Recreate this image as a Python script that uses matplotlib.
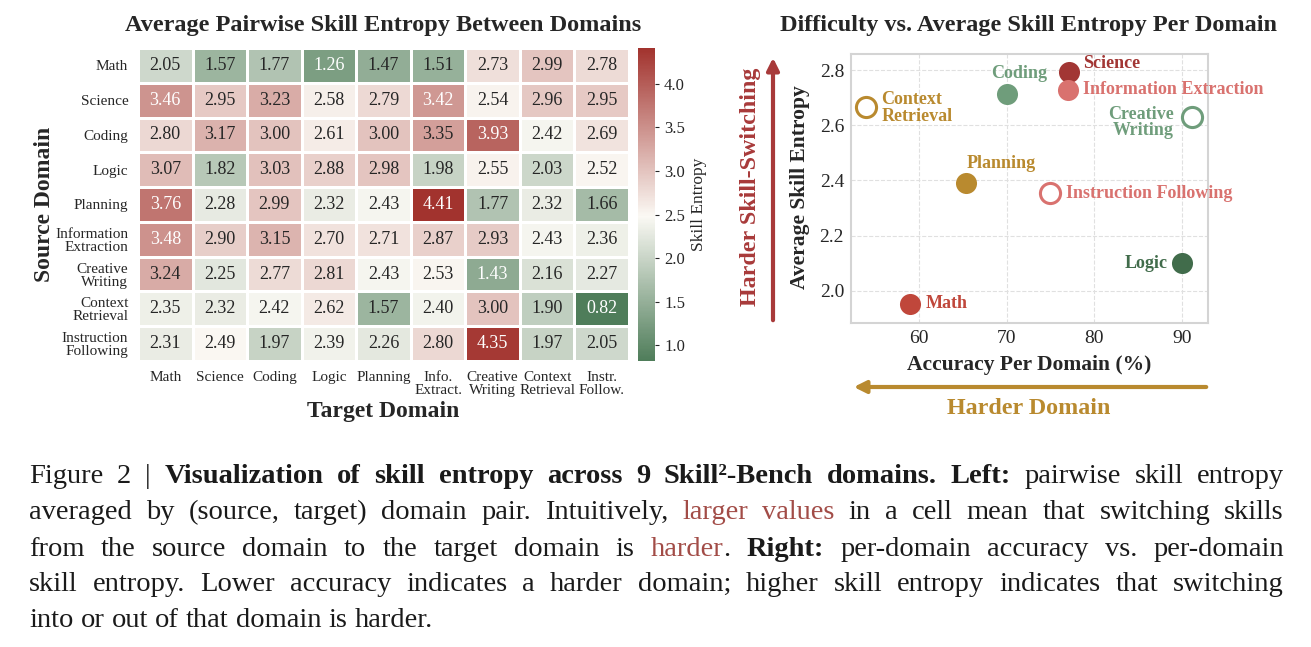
import numpy as np
import matplotlib
matplotlib.use("Agg")
from matplotlib import pyplot as plt
from matplotlib.colors import LinearSegmentedColormap, Normalize
from matplotlib.patches import FancyArrowPatch

plt.rcParams['font.family'] = ['Liberation Serif', 'DejaVu Serif']

# heatmap data (rows = source domain, cols = target domain)
source_labels = ["Math", "Science", "Coding", "Logic", "Planning",
                 "Information\nExtraction", "Creative\nWriting",
                 "Context\nRetrieval", "Instruction\nFollowing"]
target_labels = ["Math", "Science", "Coding", "Logic", "Planning",
                 "Info.\nExtract.", "Creative\nWriting", "Context\nRetrieval",
                 "Instr.\nFollow."]
entropy = np.array([
    [2.05, 1.57, 1.77, 1.26, 1.47, 1.51, 2.73, 2.99, 2.78],
    [3.46, 2.95, 3.23, 2.58, 2.79, 3.42, 2.54, 2.96, 2.95],
    [2.80, 3.17, 3.00, 2.61, 3.00, 3.35, 3.93, 2.42, 2.69],
    [3.07, 1.82, 3.03, 2.88, 2.98, 1.98, 2.55, 2.03, 2.52],
    [3.76, 2.28, 2.99, 2.32, 2.43, 4.41, 1.77, 2.32, 1.66],
    [3.48, 2.90, 3.15, 2.70, 2.71, 2.87, 2.93, 2.43, 2.36],
    [3.24, 2.25, 2.77, 2.81, 2.43, 2.53, 1.43, 2.16, 2.27],
    [2.35, 2.32, 2.42, 2.62, 1.57, 2.40, 3.00, 1.90, 0.82],
    [2.31, 2.49, 1.97, 2.39, 2.26, 2.80, 4.35, 1.97, 2.05],
])

# scatter data
domains = ["Math", "Science", "Coding", "Logic", "Planning",
           "Information Extraction", "Creative Writing",
           "Context Retrieval", "Instruction Following"]
accuracy = [59.0, 77.1, 70.0, 90.0, 65.4, 77.0, 91.1, 54.0, 75.0]
avg_entropy = [1.953, 2.793, 2.713, 2.100, 2.392, 2.728, 2.631, 2.667, 2.354]
point_colors = ["#c0473b", "#a23634", "#6f9d7b", "#416c4b", "#b98a2f",
                "#d9726f", "#6f9d7b", "#b98a2f", "#d9726f"]
hollow = [False, False, False, False, False, False, True, True, True]
point_labels = ["Math", "Science", "Coding", "Logic", "Planning",
                "Information Extraction", "Creative\nWriting",
                "Context\nRetrieval", "Instruction Following"]
# label offsets (points) and horizontal alignment
label_pos = [(11, 0, 'left'), (10, 6, 'left'), (9, 15, 'center'),
             (-10, 0, 'right'), (0, 14, 'left'), (11, 0, 'left'),
             (-13, -4, 'right'), (11, -1, 'left'), (11, 0, 'left')]

W, H = 1311, 647
fig = plt.figure(figsize=(W / 100, H / 100), dpi=100)


def fx(px):
    return px / W


def fy(py):
    return 1 - py / H


dark = "#262626"

# ---------------- heatmap ----------------
ax = fig.add_axes([fx(138), fy(361), fx(629) - fx(138), fy(48) - fy(361)])
cax = fig.add_axes([fx(638), fy(361), fx(655) - fx(638), fy(48) - fy(361)])

vmin, vmax = entropy.min(), entropy.max()
white_at = (2.48 - vmin) / (vmax - vmin)
cmap = LinearSegmentedColormap.from_list(
    "gr", [(0, "#4f7d5a"), (white_at, "#fbf9f4"), (1, "#a2332e")])
norm = Normalize(vmin=vmin, vmax=vmax)

mesh = ax.pcolormesh(entropy, cmap=cmap, norm=norm, edgecolors="white", linewidth=1)
ax.set_xlim(0, 9)
ax.set_ylim(9, 0)
for i in range(entropy.shape[0]):
    for j in range(entropy.shape[1]):
        v = entropy[i, j]
        c = "white" if (v > 3.4 or v < 1.45) else dark
        ax.text(j + 0.5, i + 0.5, f"{v:.2f}", ha="center", va="center",
                fontsize=13, color=c)
ax.set_xticks(np.arange(9) + 0.5)
ax.set_xticklabels(target_labels, fontsize=11, color=dark, linespacing=1.0, va="top")
ax.set_yticks(np.arange(9) + 0.5)
ax.set_yticklabels(source_labels, fontsize=11, color=dark, linespacing=1.0)
ax.tick_params(length=0, pad=7)
for s in ax.spines.values():
    s.set_visible(False)
fig.text(fx(383), fy(412), "Target Domain", ha="center", va="center",
         fontsize=17, fontweight="bold", color=dark)
fig.text(fx(44), fy(204), "Source Domain", ha="center", va="center", rotation=90,
         fontsize=17, fontweight="bold", color=dark)
fig.text(fx(383), fy(25), "Average Pairwise Skill Entropy Between Domains",
         ha="center", va="center", fontsize=17.5, fontweight="bold", color=dark)

cb = fig.colorbar(mesh, cax=cax)
cb.outline.set_visible(False)
cb.set_ticks([1.0, 1.5, 2.0, 2.5, 3.0, 3.5, 4.0])
cb.ax.tick_params(labelsize=12, length=3, width=0.8, colors=dark)
cb.set_label("Skill Entropy", fontsize=12.5, color=dark, labelpad=4)

# ---------------- scatter ----------------
ax2 = fig.add_axes([fx(851), fy(323), fx(1208) - fx(851), fy(54) - fy(323)])
for k in range(len(domains)):
    if hollow[k]:
        ax2.scatter(accuracy[k], avg_entropy[k], s=210, facecolor="white",
                    edgecolor=point_colors[k], linewidth=2.2, zorder=3)
    else:
        ax2.scatter(accuracy[k], avg_entropy[k], s=230, color=point_colors[k],
                    linewidth=0, zorder=3)
    dx, dy, ha = label_pos[k]
    ax2.annotate(point_labels[k], (accuracy[k], avg_entropy[k]),
                 textcoords="offset points", xytext=(dx, dy), ha=ha, va="center",
                 fontsize=13, fontweight="bold", color=point_colors[k],
                 linespacing=0.95, zorder=4, annotation_clip=False)

ax2.set_xlim(52.26, 92.97)
ax2.set_ylim(1.884, 2.858)
ax2.set_xticks([60, 70, 80, 90])
ax2.set_yticks([2.0, 2.2, 2.4, 2.6, 2.8])
ax2.set_yticklabels(["2.0", "2.2", "2.4", "2.6", "2.8"])
ax2.tick_params(length=0, labelsize=14, colors=dark, pad=5)
ax2.grid(True, linestyle="--", color="#e0e0e0", linewidth=0.8)
ax2.set_axisbelow(True)
for s in ax2.spines.values():
    s.set_color("#d4d4d4")
    s.set_linewidth(1.5)
fig.text(fx(1029), fy(365), "Accuracy Per Domain (%)", ha="center", va="center",
         fontsize=15.5, fontweight="bold", color=dark)
fig.text(fx(800), fy(187), "Average Skill Entropy", ha="center", va="center",
         rotation=90, fontsize=15.5, fontweight="bold", color=dark)
fig.text(fx(1029), fy(25), "Difficulty vs. Average Skill Entropy Per Domain",
         ha="center", va="center", fontsize=17.5, fontweight="bold", color=dark)

red = "#a83a3a"
gold = "#b98a2f"
fig.add_artist(FancyArrowPatch((fx(773), fy(323)), (fx(773), fy(55)),
                               transform=fig.transFigure, arrowstyle="-|>",
                               mutation_scale=18, lw=3, color=red))
fig.text(fx(750), fy(187), "Harder Skill-Switching", rotation=90, ha="center",
         va="center", fontsize=17.3, fontweight="bold", color=red)
fig.add_artist(FancyArrowPatch((fx(1209), fy(387)), (fx(851), fy(387)),
                               transform=fig.transFigure, arrowstyle="-|>",
                               mutation_scale=18, lw=3, color=gold))
fig.text(fx(1029), fy(409), "Harder Domain", ha="center", va="center",
         fontsize=17.3, fontweight="bold", color=gold)

# ---------------- caption ----------------
cap_red = "#a24c47"
caption_lines = [
    [("Figure 2 | ", "n"), ("Visualization of skill entropy across 9 Skill²-Bench domains. Left:", "b"),
     (" pairwise skill entropy", "n")],
    [("averaged by (source, target) domain pair. Intuitively, ", "n"), ("larger values", "r"),
     (" in a cell mean that switching skills", "n")],
    [("from the source domain to the target domain is ", "n"), ("harder", "r"), (".", "n"),
     (" Right:", "b"), (" per-domain accuracy vs. per-domain", "n")],
    [("skill entropy. Lower accuracy indicates a harder domain; higher skill entropy indicates that switching", "n")],
    [("into or out of that domain is harder.", "n")],
]
line_base = [483, 519, 556, 591, 627]
left_px, right_px = 29, 1284
cap_size = 20.5

renderer = fig.canvas.get_renderer()


def styled(x, y, s, st, size):
    return fig.text(fx(x), fy(y), s, ha="left", va="baseline", fontsize=size,
                    fontweight="bold" if st == "b" else "normal",
                    color=cap_red if st == "r" else "#1a1a1a")


def measure(s, st, size):
    t = styled(0, 300, s, st, size)
    w = t.get_window_extent(renderer).width
    t.remove()
    return w


def split_words(segs):
    words, cur = [], []
    for text, st in segs:
        parts = text.split(" ")
        for i, p in enumerate(parts):
            if i > 0 and cur:
                words.append(cur)
                cur = []
            if p:
                cur.append((p, st))
    if cur:
        words.append(cur)
    return words


line_words = [split_words(segs) for segs in caption_lines]

space_w = measure("a a", "n", cap_size) - 2 * measure("a", "n", cap_size)
for li, words in enumerate(line_words):
    widths = [sum(measure(p, st, cap_size) for p, st in w) for w in words]
    if li < len(line_words) - 1:
        gap = (right_px - left_px - sum(widths)) / (len(words) - 1)
    else:
        gap = space_w
    x = left_px
    for w, tw in zip(words, widths):
        xx = x
        for p, st in w:
            styled(xx, line_base[li], p, st, cap_size)
            xx += measure(p, st, cap_size)
        x += tw + gap

fig.savefig("out.png", dpi=100)
